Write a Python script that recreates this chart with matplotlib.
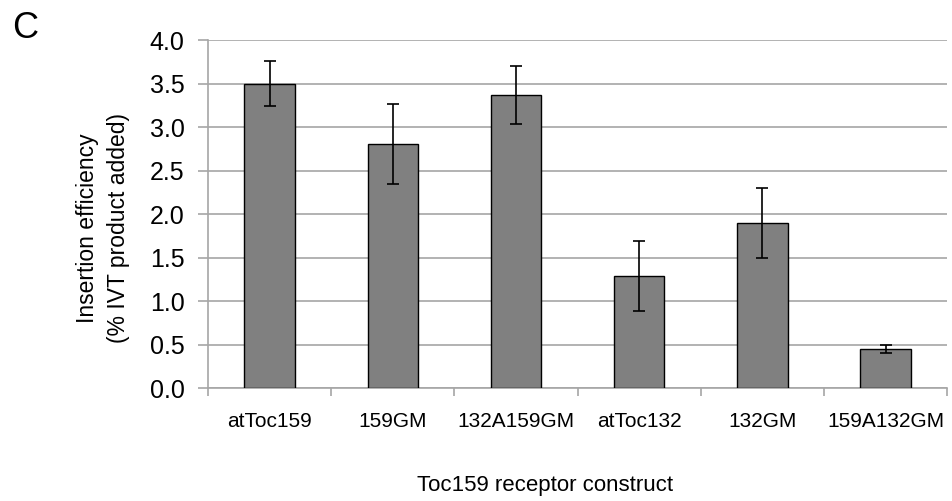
import numpy as np
import matplotlib
matplotlib.use("Agg")
from matplotlib import pyplot as plt

plt.rcParams['font.family'] = ['Liberation Sans', 'DejaVu Sans']

# data
constructs = ['atToc159', '159GM', '132A159GM', 'atToc132', '132GM', '159A132GM']
efficiency = [3.50, 2.81, 3.37, 1.29, 1.90, 0.45]
errors = [0.26, 0.46, 0.33, 0.40, 0.40, 0.05]
yticks = [0.0, 0.5, 1.0, 1.5, 2.0, 2.5, 3.0, 3.5, 4.0]

fig = plt.figure(figsize=(9.52, 5.01), dpi=100)
ax = fig.add_axes([0.2185, 0.2255, 0.7765, 0.6945])

x = np.arange(len(constructs))
ax.bar(x, efficiency, width=0.41, color='#808080', edgecolor='black',
       linewidth=1.0, zorder=3)
ax.errorbar(x, efficiency, yerr=errors, fmt='none', ecolor='black',
            elinewidth=1.2, capsize=4, capthick=1.2, zorder=4)

ax.set_xlim(-0.5, len(constructs) - 0.5)
ax.set_ylim(0, 4.0)
ax.set_yticks(yticks)
ax.set_yticklabels(['%.1f' % v for v in yticks], fontsize=18)
ax.yaxis.grid(True, color='#a6a6a6', linewidth=1.2, zorder=0)

# category labels between boundary ticks
ax.set_xticks(x)
ax.set_xticklabels(constructs, fontsize=15)
ax.tick_params(axis='x', length=0, pad=17)
ax.set_xticks(np.arange(-0.5, len(constructs)), minor=True)
ax.tick_params(axis='x', which='minor', length=6, color='#a6a6a6', width=1.2)
ax.tick_params(axis='y', length=7, color='#a6a6a6', width=1.2, pad=10)

for s in ['top', 'right']:
    ax.spines[s].set_visible(False)
for s in ['left', 'bottom']:
    ax.spines[s].set_color('#a6a6a6')
    ax.spines[s].set_linewidth(1.2)

fig.text(103 / 952, 1 - 228 / 501, 'Insertion efficiency\n(% IVT product added)',
         fontsize=16.5, rotation=90, ha='center', va='center', ma='center',
         linespacing=1.4)
fig.text(545 / 952, 1 - 485 / 501, 'Toc159 receptor construct', fontsize=16,
         ha='center', va='center')
fig.text(25 / 952, 1 - 29 / 501, 'C', fontsize=26, ha='center', va='center')

fig.savefig('out.png', dpi=100)
